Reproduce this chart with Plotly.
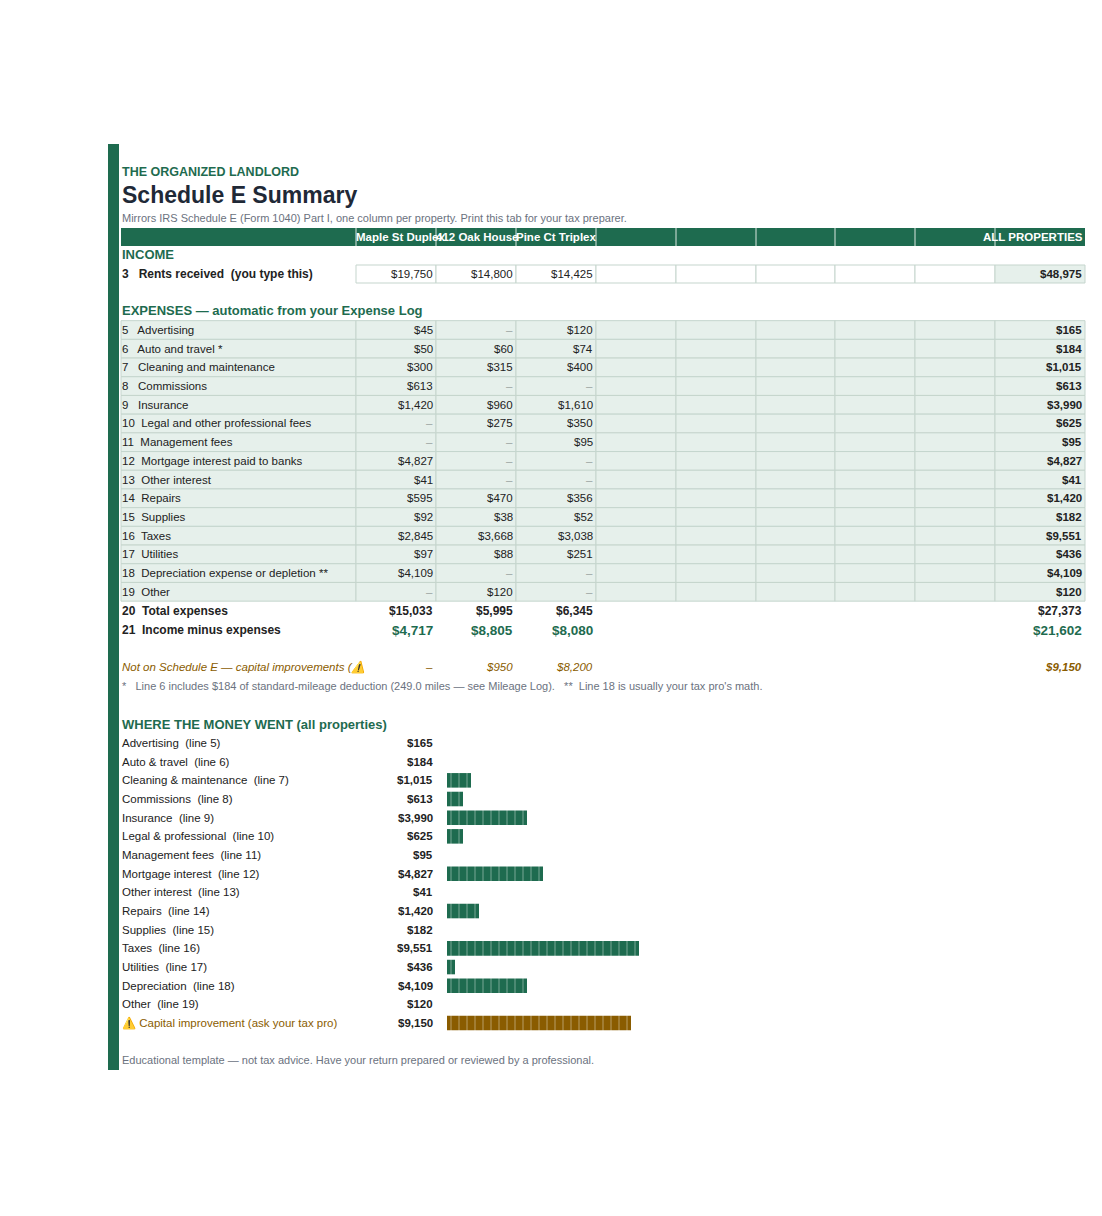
import plotly.graph_objects as go

W, H = 1102, 1216
OFF = 8  # the page has a default 8px body margin

properties = ['Maple St Duplex', '412 Oak House', 'Pine Ct Triplex']
rents = ['$19,750', '$14,800', '$14,425']
rents_total = '$48,975'

expense_lines = ['5', '6', '7', '8', '9', '10', '11', '12', '13', '14', '15', '16', '17', '18', '19']
expense_names = ['Advertising', 'Auto and travel *', 'Cleaning and maintenance', 'Commissions',
                 'Insurance', 'Legal and other professional fees', 'Management fees',
                 'Mortgage interest paid to banks', 'Other interest', 'Repairs', 'Supplies',
                 'Taxes', 'Utilities', 'Depreciation expense or depletion **', 'Other']
maple = ['$45', '$50', '$300', '$613', '$1,420', '–', '–', '$4,827', '$41', '$595', '$92', '$2,845', '$97', '$4,109', '–']
oak = ['–', '$60', '$315', '–', '$960', '$275', '–', '–', '–', '$470', '$38', '$3,668', '$88', '–', '$120']
pine = ['$120', '$74', '$400', '–', '$1,610', '$350', '$95', '–', '–', '$356', '$52', '$3,038', '$251', '–', '–']
exp_totals = ['$165', '$184', '$1,015', '$613', '$3,990', '$625', '$95', '$4,827', '$41', '$1,420',
              '$182', '$9,551', '$436', '$4,109', '$120']
total_expenses = ['$15,033', '$5,995', '$6,345', '$27,373']
net_income = ['$4,717', '$8,805', '$8,080', '$21,602']
capital = ['–', '$950', '$8,200', '$9,150']

bar_labels = ['Advertising  (line 5)', 'Auto & travel  (line 6)', 'Cleaning & maintenance  (line 7)',
              'Commissions  (line 8)', 'Insurance  (line 9)', 'Legal & professional  (line 10)',
              'Management fees  (line 11)', 'Mortgage interest  (line 12)', 'Other interest  (line 13)',
              'Repairs  (line 14)', 'Supplies  (line 15)', 'Taxes  (line 16)', 'Utilities  (line 17)',
              'Depreciation  (line 18)', 'Other  (line 19)', '⚠️ Capital improvement (ask your tax pro)']
bar_values = [165, 184, 1015, 613, 3990, 625, 95, 4827, 41, 1420, 182, 9551, 436, 4109, 120, 9150]
DOLLARS_PER_BLOCK = 400

GREEN = '#1e6b4f'
LIGHT = '#e6f0eb'
BORDER = '#c5d5cd'
BROWN = '#8a5c00'
GRAY = '#6b7280'
DARK = '#222222'
FONT = 'Liberation Sans, Arial, sans-serif'

FW, FH = W - 2 * OFF, H - 2 * OFF


def px(x):
    return (x - OFF) / FW


def py(y):
    return 1 - (y - OFF) / FH


shapes = []
annos = []


def rect(x0, y0, x1, y1, fill, line=None, lw=1):
    shapes.append(dict(type='rect', xref='paper', yref='paper', x0=px(x0), x1=px(x1), y0=py(y1), y1=py(y0),
                       fillcolor=fill, line=dict(color=line or fill, width=lw if line else 0), layer='below'))


def text(x, y, s, size=12, color=DARK, anchor='left', bold=False, italic=False):
    if bold:
        s = '<b>' + s + '</b>'
    if italic:
        s = '<i>' + s + '</i>'
    annos.append(dict(x=px(x), y=py(y), xref='paper', yref='paper', text=s, showarrow=False,
                      xanchor=anchor, yanchor='middle', font=dict(size=size, color=color, family=FONT)))


# left accent band
rect(108, 144, 119, 1070, GREEN)

text(120, 172, 'THE ORGANIZED LANDLORD', 12.5, GREEN, bold=True)
text(120, 195, 'Schedule E Summary', 23, '#1f2937', bold=True)
text(120, 218, 'Mirrors IRS Schedule E (Form 1040) Part I, one column per property. Print this tab for your tax preparer.', 11, GRAY)

col_edges = [356, 436, 516, 596, 676, 756, 835, 915, 995, 1085]

# header band
rect(121, 228, 1085, 246, GREEN)
for e in col_edges[:-1]:
    shapes.append(dict(type='line', xref='paper', yref='paper', x0=px(e), x1=px(e), y0=py(228), y1=py(246),
                       line=dict(color='#d9e6df', width=1)))
for i, p in enumerate(properties):
    text(col_edges[i] - 2, 237, p, 11.5, 'white', bold=True)
text(1085, 237, 'ALL PROPERTIES', 11.5, 'white', bold=True, anchor='right')

text(120, 255, 'INCOME', 13, GREEN, bold=True)
text(120, 274, '3   Rents received  (you type this)', 12, DARK, bold=True)
for i in range(8):
    rect(col_edges[i], 265, col_edges[i + 1], 283, 'white', BORDER)
rect(995, 265, 1085, 283, LIGHT, BORDER)
for i, r in enumerate(rents):
    text(col_edges[i + 1] - 1, 274, r, 11.5, anchor='right')
text(1084, 274, rents_total, 11.5, bold=True, anchor='right')

text(120, 311, 'EXPENSES — automatic from your Expense Log', 13, GREEN, bold=True)
step = 18.7
for k in range(len(expense_names)):
    yc = 330 + k * step
    y0, y1 = yc - step / 2, yc + step / 2
    rect(121, y0, 356, y1, LIGHT, BORDER)
    for i in range(9):
        rect(col_edges[i], y0, col_edges[i + 1], y1, LIGHT, BORDER)
    text(120, yc, expense_lines[k].ljust(3).replace(' ', '&nbsp;') + ' ' + expense_names[k], 11.5)
    for i, col in enumerate([maple, oak, pine]):
        text(col_edges[i + 1] - 1, yc, col[k], 11.5, '#9aa3a0' if col[k] == '–' else DARK, anchor='right')
    text(1084, yc, exp_totals[k], 11.5, bold=True, anchor='right')

text(120, 611, '20  Total expenses', 12, bold=True)
text(120, 630, '21  Income minus expenses', 12, bold=True)
for i in range(3):
    text(col_edges[i + 1] - 1, 611, total_expenses[i], 12, bold=True, anchor='right')
    text(col_edges[i + 1] - 1, 630, net_income[i], 13.5, GREEN, bold=True, anchor='right')
    text(col_edges[i + 1] - 1, 667, capital[i], 11.5, BROWN, italic=True, anchor='right')
text(1084, 611, total_expenses[3], 12, bold=True, anchor='right')
text(1084, 630, net_income[3], 13.5, GREEN, bold=True, anchor='right')
text(1084, 667, '<b>' + capital[3] + '</b>', 11.5, BROWN, italic=True, anchor='right')
text(120, 667, 'Not on Schedule E — capital improvements (⚠️', 11.5, BROWN, italic=True)
text(120, 686, '*   Line 6 includes $184 of standard-mileage deduction (249.0 miles — see Mileage Log).   '
     '**  Line 18 is usually your tax pro\'s math.', 11, GRAY)

text(120, 724, 'WHERE THE MONEY WENT (all properties)', 13, GREEN, bold=True)
bstep = 18.67
for k, (lab, v) in enumerate(zip(bar_labels, bar_values)):
    yc = 743 + k * bstep
    last = k == len(bar_labels) - 1
    text(120, yc, lab, 11.5, BROWN if last else DARK)
    text(435, yc, f'${v:,}', 11.5, bold=True, anchor='right')

text(120, 1060, 'Educational template — not tax advice. Have your return prepared or reviewed by a professional.', 11, GRAY)

# the sheet draws one block per $400, rounded
blocks = [round(v / DOLLARS_PER_BLOCK) for v in bar_values]
colors = [GREEN] * (len(bar_values) - 1) + [BROWN]
fig = go.Figure(go.Bar(
    x=blocks, y=bar_labels, orientation='h',
    marker=dict(color=colors, line=dict(width=0),
                pattern=dict(shape='|', fgcolor='rgba(255,255,255,0.45)', size=8, solidity=0.1)),
    hoverinfo='skip'))

fig.update_layout(width=FW, height=FH, margin=dict(l=0, r=0, t=0, b=0),
                  paper_bgcolor='white', plot_bgcolor='rgba(0,0,0,0)', showlegend=False,
                  bargap=0.22, shapes=shapes, annotations=annos,
                  xaxis=dict(domain=[px(447), px(847)], range=[0, 50], visible=False, fixedrange=True),
                  yaxis=dict(domain=[py(743 + 15.5 * bstep), py(743 - bstep / 2)], autorange='reversed',
                             visible=False, fixedrange=True))

fig.write_html('out.html')
